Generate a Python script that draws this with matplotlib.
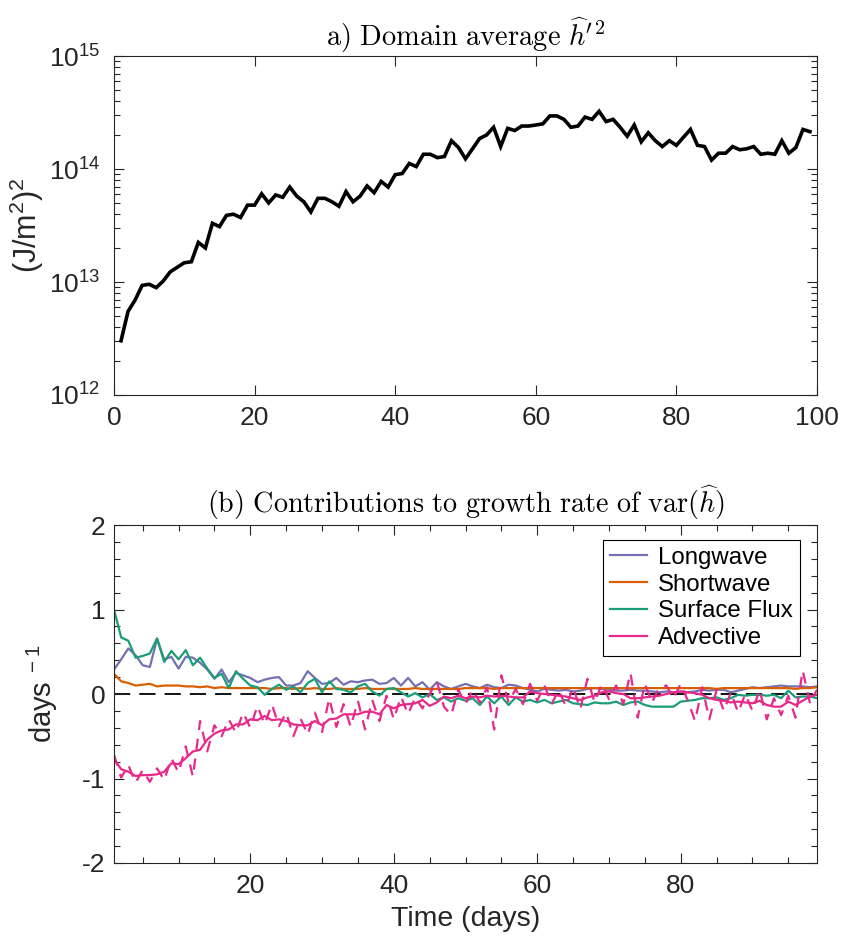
import matplotlib
matplotlib.use("Agg")
import matplotlib.pyplot as plt
import numpy as np
from matplotlib.ticker import MultipleLocator, LogLocator, FixedLocator

plt.rcParams['font.family'] = ['Liberation Sans', 'DejaVu Sans']
plt.rcParams['mathtext.fontset'] = 'custom'
plt.rcParams['mathtext.rm'] = 'Liberation Sans'
plt.rcParams['mathtext.it'] = 'Liberation Sans:italic'
plt.rcParams['mathtext.bf'] = 'Liberation Sans:bold'
plt.rcParams['axes.unicode_minus'] = False

# ---------------- data ----------------
days = list(range(1, 100))

h_var = [3.02e12, 5.50e12, 6.92e12, 9.33e12, 9.55e12, 8.91e12, 1.02e13, 1.23e13, 1.35e13, 1.48e13,
         1.51e13, 2.24e13, 2.00e13, 3.31e13, 3.09e13, 3.89e13, 3.98e13, 3.72e13, 4.79e13, 4.79e13,
         6.03e13, 5.01e13, 5.89e13, 5.62e13, 6.92e13, 5.75e13, 5.13e13, 4.17e13, 5.50e13, 5.50e13,
         5.13e13, 4.68e13, 6.31e13, 5.13e13, 5.75e13, 7.08e13, 6.17e13, 7.76e13, 6.92e13, 8.91e13,
         9.12e13, 1.12e14, 1.05e14, 1.35e14, 1.35e14, 1.26e14, 1.29e14, 1.78e14, 1.55e14, 1.23e14,
         1.51e14, 1.86e14, 2.00e14, 2.34e14, 1.58e14, 2.29e14, 2.19e14, 2.40e14, 2.40e14, 2.45e14,
         2.51e14, 2.95e14, 2.95e14, 2.75e14, 2.34e14, 2.40e14, 2.88e14, 2.75e14, 3.24e14, 2.63e14,
         2.75e14, 2.34e14, 1.95e14, 2.45e14, 1.74e14, 2.09e14, 1.78e14, 1.58e14, 1.78e14, 1.62e14,
         1.91e14, 2.24e14, 1.62e14, 1.58e14, 1.20e14, 1.38e14, 1.38e14, 1.58e14, 1.48e14, 1.51e14,
         1.58e14, 1.35e14, 1.38e14, 1.35e14, 1.78e14, 1.38e14, 1.55e14, 2.24e14, 2.14e14]

longwave = [0.29, 0.41, 0.54, 0.46, 0.34, 0.32, 0.65, 0.41, 0.44, 0.30,
            0.44, 0.43, 0.37, 0.29, 0.18, 0.29, 0.14, 0.25, 0.22, 0.19,
            0.14, 0.17, 0.19, 0.20, 0.10, 0.10, 0.13, 0.27, 0.19, 0.12,
            0.13, 0.19, 0.11, 0.15, 0.14, 0.16, 0.17, 0.12, 0.13, 0.19,
            0.10, 0.19, 0.09, 0.14, 0.05, 0.14, 0.09, 0.06, 0.09, 0.12,
            0.09, 0.07, 0.11, 0.08, 0.07, 0.11, 0.10, 0.07, 0.05, 0.03,
            0.06, 0.05, 0.04, 0.05, 0.03, 0.04, 0.06, 0.07, 0.06, 0.05,
            0.04, 0.04, 0.05, 0.04, 0.04, 0.03, 0.02, 0.03, 0.02, 0.03,
            0.02, 0.03, 0.05, 0.04, 0.05, 0.05, 0.02, 0.04, 0.06, 0.08,
            0.07, 0.08, 0.09, 0.10, 0.09, 0.09, 0.09, 0.08, 0.09]

shortwave = [0.24, 0.15, 0.13, 0.10, 0.11, 0.12, 0.09, 0.10, 0.10, 0.10,
             0.09, 0.09, 0.08, 0.09, 0.07, 0.08, 0.07, 0.07, 0.07, 0.07,
             0.07, 0.07, 0.06, 0.07, 0.07, 0.06, 0.07, 0.06, 0.07, 0.06,
             0.06, 0.07, 0.06, 0.06, 0.06, 0.07, 0.06, 0.06, 0.06, 0.06,
             0.06, 0.06, 0.07, 0.06, 0.06, 0.06, 0.06, 0.06, 0.06, 0.07,
             0.07, 0.07, 0.07, 0.06, 0.07, 0.07, 0.07, 0.07, 0.07, 0.07,
             0.07, 0.07, 0.07, 0.07, 0.07, 0.07, 0.07, 0.07, 0.07, 0.07,
             0.07, 0.07, 0.07, 0.07, 0.07, 0.07, 0.07, 0.07, 0.07, 0.07,
             0.07, 0.07, 0.07, 0.07, 0.06, 0.07, 0.07, 0.07, 0.07, 0.07,
             0.07, 0.07, 0.07, 0.07, 0.07, 0.06, 0.07, 0.07, 0.08]

surface_flux = [1.00, 0.67, 0.63, 0.43, 0.45, 0.48, 0.66, 0.38, 0.51, 0.41,
                0.52, 0.34, 0.43, 0.30, 0.19, 0.24, 0.07, 0.27, 0.18, 0.10,
                0.08, -0.01, 0.06, 0.11, 0.05, 0.09, 0.02, 0.13, 0.18, 0.02,
                0.15, 0.06, 0.05, 0.02, 0.09, 0.12, 0.03, -0.02, 0.06, 0.07,
                0.02, -0.03, 0.01, -0.04, 0.00, -0.07, -0.04, -0.09, -0.05, -0.08,
                -0.05, -0.13, -0.03, -0.11, -0.03, -0.13, -0.04, -0.09, -0.07, -0.10,
                -0.07, -0.11, -0.09, -0.07, -0.11, -0.12, -0.13, -0.10, -0.11, -0.11,
                -0.09, -0.13, -0.10, -0.09, -0.13, -0.15, -0.15, -0.15, -0.15, -0.09,
                -0.08, -0.07, -0.05, -0.05, -0.04, -0.07, -0.05, -0.01, -0.02, -0.01,
                -0.01, -0.02, -0.01, -0.05, 0.04, -0.04, -0.03, -0.03, -0.05]

advective = [-0.77, -0.89, -0.92, -0.97, -0.96, -0.96, -0.95, -0.92, -0.82, -0.83,
             -0.76, -0.68, -0.66, -0.54, -0.47, -0.43, -0.42, -0.36, -0.36, -0.30,
             -0.31, -0.26, -0.31, -0.30, -0.32, -0.36, -0.37, -0.37, -0.32, -0.37,
             -0.30, -0.29, -0.24, -0.24, -0.24, -0.21, -0.21, -0.24, -0.13, -0.17,
             -0.13, -0.12, -0.11, -0.07, -0.14, -0.10, -0.03, -0.05, -0.02, -0.05,
             -0.03, -0.04, -0.02, -0.03, -0.02, -0.03, -0.04, -0.04, 0.03, 0.01,
             0.00, -0.01, -0.02, -0.03, -0.05, -0.07, -0.04, -0.02, 0.02, 0.03,
             0.01, 0.00, -0.05, -0.05, -0.04, -0.03, -0.02, 0.00, 0.02, 0.03,
             0.02, 0.01, -0.01, -0.05, -0.07, -0.08, -0.10, -0.09, -0.10, -0.11,
             -0.08, -0.13, -0.15, -0.15, -0.09, -0.13, -0.08, -0.03, -0.01]

advective_raw = [-0.72, -0.99, -0.84, -1.05, -0.90, -1.04, -0.88, -1.02, -0.76, -0.93,
                 -0.62, -0.98, -0.32, -0.68, -0.37, -0.50, -0.30, -0.46, -0.22, -0.40,
                 -0.14, -0.36, -0.12, -0.38, -0.22, -0.50, -0.29, -0.48, -0.22, -0.45,
                 -0.05, -0.39, -0.12, -0.39, -0.08, -0.42, -0.07, -0.32, -0.02, -0.30,
                 -0.03, -0.24, -0.04, -0.17, 0.00, 0.15, -0.15, -0.25, 0.05, -0.12,
                 0.05, -0.10, 0.08, -0.42, 0.22, -0.10, 0.06, -0.12, 0.12, -0.08,
                 0.10, -0.12, 0.05, -0.15, 0.08, -0.18, 0.18, -0.10, 0.12, -0.06,
                 0.10, -0.12, 0.25, -0.28, 0.12, -0.10, 0.08, 0.10, -0.05, 0.12,
                 -0.08, -0.32, 0.08, -0.30, 0.05, -0.20, 0.02, -0.22, 0.00, -0.20,
                 0.05, -0.30, -0.05, -0.25, -0.02, -0.28, 0.28, -0.10, 0.05]

series_labels = ['Longwave', 'Shortwave', 'Surface Flux', 'Advective']
series_colors = ['#7570b3', '#d95f02', '#1b9e77', '#e7298a']

# ---------------- figure ----------------
W, H = 843, 941
fig = plt.figure(figsize=(W / 100, H / 100), dpi=100)
axc = '#262626'

def box(l, r, t, b):
    return [l / W, 1 - b / H, (r - l) / W, (b - t) / H]

# Panel a
ax1 = fig.add_axes(box(114, 817, 56, 395))
ax1.plot(days, h_var, color='k', lw=2.6, solid_joinstyle='miter')
ax1.set_yscale('log')
ax1.set_xlim(0, 100)
ax1.set_ylim(1e12, 1e15)
ax1.set_xticks([0, 20, 40, 60, 80, 100])
ax1.yaxis.set_major_locator(FixedLocator([1e12, 1e13, 1e14, 1e15]))
ax1.yaxis.set_minor_locator(LogLocator(base=10, subs=np.arange(2, 10), numticks=20))
ax1.set_ylabel('(J/m$^{2}$)$^{2}$', fontsize=22, color=axc, labelpad=2)
ax1.set_title(r"$\mathrm{a)\ Domain\ average}\ \widehat{h}'^{2}$", fontsize=20.5,
              math_fontfamily='cm', pad=7)

# Panel b
ax2 = fig.add_axes(box(114, 817, 525, 863))
ax2.axhline(0, color='k', lw=1.3, dashes=(9, 5), zorder=1)
vals = [longwave, shortwave, surface_flux, advective]
for v, lab, c in zip(vals, series_labels, series_colors):
    ax2.plot(days, v, color=c, lw=1.6, label=lab, zorder=2)
ax2.plot(days, advective_raw, color=series_colors[3], lw=1.6, dashes=(5, 4), zorder=2)
ax2.set_xlim(1, 99)
ax2.set_ylim(-2, 2)
ax2.set_xticks([20, 40, 60, 80])
ax2.xaxis.set_minor_locator(MultipleLocator(5))
ax2.set_yticks([-2, -1, 0, 1, 2])
ax2.yaxis.set_minor_locator(MultipleLocator(0.2))
ax2.set_xlabel('Time (days)', fontsize=20.5, color=axc, labelpad=6)
ax2.set_ylabel('days$^{\\ -1}$', fontsize=21, color=axc, labelpad=16)
ax2.set_title(r"$\mathrm{(b)\ Contributions\ to\ growth\ rate\ of\ var(}\widehat{h}\mathrm{)}$",
              fontsize=20.3, math_fontfamily='cm', pad=9)
leg = ax2.legend(loc='upper right', bbox_to_anchor=(0.976, 0.957), fontsize=17.3,
                 frameon=True, fancybox=False, edgecolor='k', framealpha=1,
                 handlelength=1.55, handletextpad=0.45, borderpad=0.3, labelspacing=0.2,
                 borderaxespad=0)
leg.get_frame().set_linewidth(0.8)

for ax in (ax1, ax2):
    for s in ax.spines.values():
        s.set_color(axc)
        s.set_linewidth(0.8)
    ax.tick_params(which='both', direction='in', top=True, right=True, colors=axc,
                   labelsize=19, width=0.8)
    ax.tick_params(which='major', length=7)
    ax.tick_params(which='minor', length=4)
    ax.tick_params(axis='x', pad=8)
    for t in ax.get_xticklabels() + ax.get_yticklabels():
        t.set_color(axc)
ax1.tick_params(axis='y', pad=10)
ax2.tick_params(axis='y', pad=6)

fig.savefig('out.png', dpi=100)
